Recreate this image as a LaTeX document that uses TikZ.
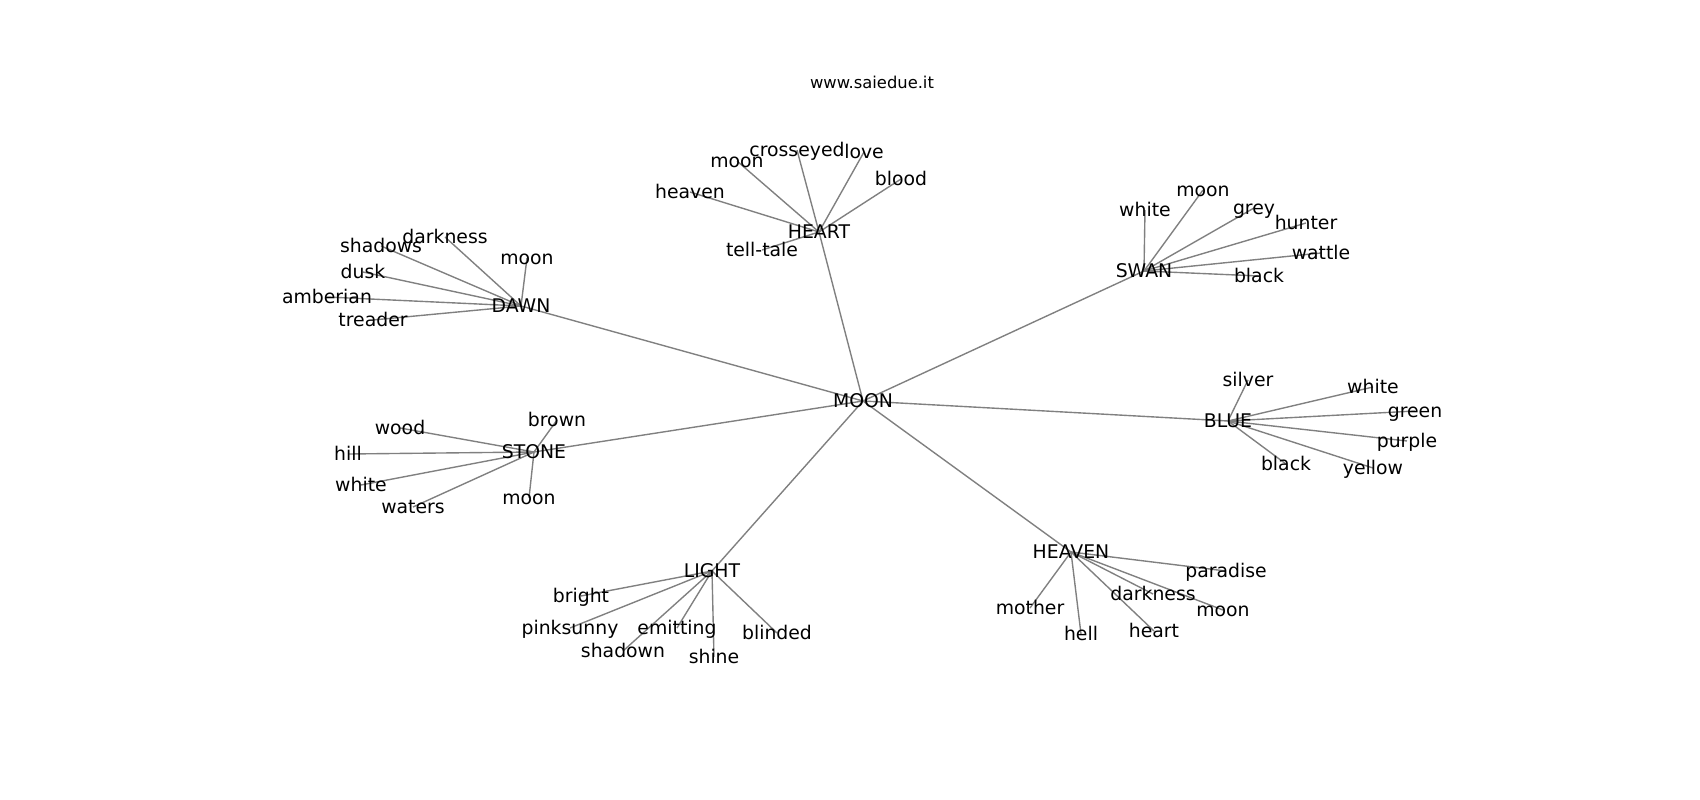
\documentclass[tikz,border=0pt]{standalone}
\usepackage{fontspec}
\setmainfont{DejaVu Sans}
\usetikzlibrary{backgrounds}

\begin{document}
\begin{tikzpicture}[x=0.01in,y=-0.01in]
    \tikzstyle{word}=[inner sep=0pt, text height=0.98em, text depth=0.04em, font=\fontsize{13.6}{16}\selectfont]
    \tikzstyle{edge}=[draw=gray, line width=1pt]
    \useasboundingbox (0,0) rectangle (1700,800);
    \node[font=\fontsize{11.8}{14}\selectfont] (title) at (872,82) {www.saiedue.it};
    \node[word] (moon) at (863,401) {MOON};
    \node[word] (dawn) at (521,306) {DAWN};
    \node[word] (dawndark) at (445,237) {darkness};
    \node[word] (dawnshad) at (381,246) {shadows};
    \node[word] (dawnmoon) at (527,258) {moon};
    \node[word] (dawndusk) at (363,272) {dusk};
    \node[word] (dawnamb) at (327,297) {amberian};
    \node[word] (dawntread) at (373,320) {treader};
    \node[word] (heart) at (819,232) {HEART};
    \node[word] (heartcross) at (797,150) {crosseyed};
    \node[word] (heartlove) at (864,152) {love};
    \node[word] (heartmoon) at (737,161) {moon};
    \node[word] (heartheav) at (690,192) {heaven};
    \node[word] (heartblood) at (901,179) {blood};
    \node[word] (hearttell) at (762,250) {tell-tale};
    \node[word] (swan) at (1144,271) {SWAN};
    \node[word] (swanwhite) at (1145,210) {white};
    \node[word] (swanmoon) at (1203,190) {moon};
    \node[word] (swangrey) at (1254,208) {grey};
    \node[word] (swanhunt) at (1306,223) {hunter};
    \node[word] (swanwat) at (1321,253) {wattle};
    \node[word] (swanblack) at (1259,276) {black};
    \node[word] (blue) at (1228,421) {BLUE};
    \node[word] (bluesilv) at (1248,380) {silver};
    \node[word] (bluewhite) at (1373,387) {white};
    \node[word] (bluegreen) at (1415,411) {green};
    \node[word] (bluepurp) at (1407,441) {purple};
    \node[word] (blueblack) at (1286,464) {black};
    \node[word] (blueyell) at (1373,468) {yellow};
    \node[word] (stone) at (534,452) {STONE};
    \node[word] (stonebrown) at (557,420) {brown};
    \node[word] (stonewood) at (400,428) {wood};
    \node[word] (stonehill) at (348,454) {hill};
    \node[word] (stonewhite) at (361,485) {white};
    \node[word] (stonewat) at (413,507) {waters};
    \node[word] (stonemoon) at (529,498) {moon};
    \node[word] (light) at (712,571) {LIGHT};
    \node[word] (lightbright) at (581,596) {bright};
    \node[word] (lightpink) at (570,628) {pinksunny};
    \node[word] (lightemit) at (677,628) {emitting};
    \node[word] (lightshad) at (623,651) {shadown};
    \node[word] (lightshine) at (714,657) {shine};
    \node[word] (lightblind) at (777,633) {blinded};
    \node[word] (heaven) at (1071,552) {HEAVEN};
    \node[word] (heavpara) at (1226,571) {paradise};
    \node[word] (heavdark) at (1153,594) {darkness};
    \node[word] (heavmoon) at (1223,610) {moon};
    \node[word] (heavmoth) at (1030,608) {mother};
    \node[word] (heavhell) at (1081,634) {hell};
    \node[word] (heavheart) at (1154,631) {heart};
    \begin{scope}[on background layer]
    \fill[white] (0,0) rectangle (1700,800);
    \foreach \a in {dawn,heart,swan,blue,stone,light,heaven}
      \draw[edge] (moon.center) -- (\a.center);
    \foreach \a/\b in {dawn/dawndark,dawn/dawnshad,dawn/dawnmoon,dawn/dawndusk,dawn/dawnamb,dawn/dawntread,
      heart/heartcross,heart/heartlove,heart/heartmoon,heart/heartheav,heart/heartblood,heart/hearttell,
      swan/swanwhite,swan/swanmoon,swan/swangrey,swan/swanhunt,swan/swanwat,swan/swanblack,
      blue/bluesilv,blue/bluewhite,blue/bluegreen,blue/bluepurp,blue/blueblack,blue/blueyell,
      stone/stonebrown,stone/stonewood,stone/stonehill,stone/stonewhite,stone/stonewat,stone/stonemoon,
      light/lightbright,light/lightpink,light/lightemit,light/lightshad,light/lightshine,light/lightblind,
      heaven/heavpara,heaven/heavdark,heaven/heavmoon,heaven/heavmoth,heaven/heavhell,heaven/heavheart}
      \draw[edge] (\a.center) -- (\b.center);
    \end{scope}
\end{tikzpicture}
\end{document}
